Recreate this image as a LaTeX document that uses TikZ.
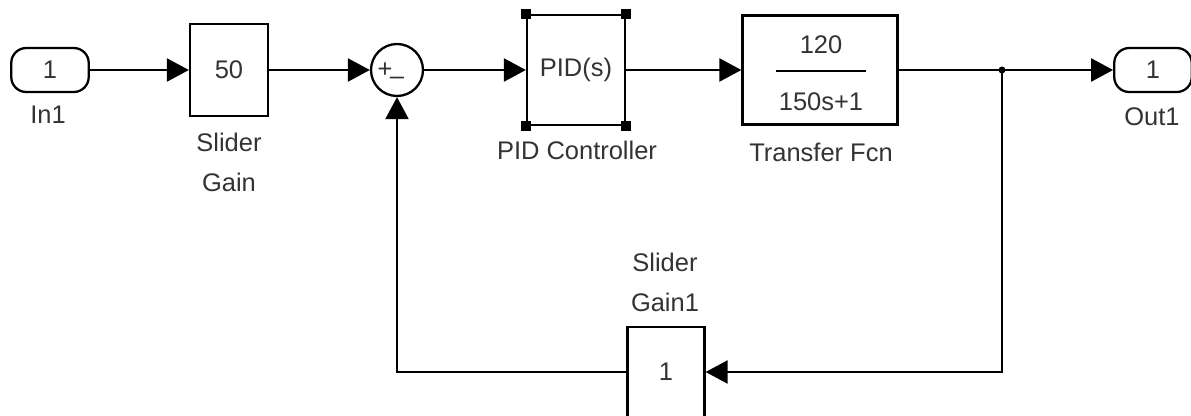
\documentclass[tikz,border=0pt]{standalone}
\usepackage{fontspec}
\setmainfont{Liberation Sans}
\usetikzlibrary{arrows.meta}

\begin{document}
\begin{tikzpicture}[x=0.02cm,y=-0.02cm,line width=1.3pt,
  >={Triangle[length=0.44cm,width=0.46cm]},
  every node/.style={text=black!80,font=\fontsize{14.5}{22.7}\selectfont,align=center},
  block/.style={draw=black,line width=1.3pt,inner sep=0pt},
  port/.style={block,rounded corners=0.3cm,minimum width=1.55cm,minimum height=0.88cm}]
  \useasboundingbox (0,0) rectangle (1191,416);
  % blocks
  \node[port] (in1) at (50,70) {1};
  \node[block,minimum width=1.56cm,minimum height=1.84cm] (sgain) at (229,70) {50};
  \node[block,circle,minimum size=1.04cm] (sum) at (397,70) {};
  \node (plus) at (385,70) {+};
  \node (minus) at (397,81) {–};
  \node[block,minimum width=1.96cm,minimum height=2.2cm] (pid) at (576,70) {PID(s)};
  \foreach \c in {north west,north east,south west,south east}
    \fill (pid.\c) ++(-5,-5) rectangle ++(10,10);
  \node[block,minimum width=3.1cm,minimum height=2.18cm] (tf) at (820,70) {};
  \node (tfnum) at (821,45) {120};
  \node (tfden) at (821,102) {150s+1};
  \draw (776,71) -- (866,71);
  \node[port] (out1) at (1153,70) {1};
  \node[block,minimum width=1.54cm,minimum height=1.8cm] (gain1) at (666,372) {1};
  % labels
  \node (in1lbl) at (48,115) {In1};
  \node (sgainlbl) at (229,162) {Slider\\Gain};
  \node (pidlbl) at (577,150) {PID Controller};
  \node (tflbl) at (821,152) {Transfer Fcn};
  \node (out1lbl) at (1152,117) {Out1};
  \node (gain1lbl) at (665,282) {Slider\\Gain1};
  % signals
  \coordinate (split) at (1002,70);
  \draw[->] (in1) -- (sgain);
  \draw[->] (sgain) -- (sum);
  \draw[->] (sum) -- (pid);
  \draw[->] (pid) -- (tf);
  \draw[->] (tf) -- (out1);
  \fill (split) circle (3.5);
  \draw[->] (split) |- (gain1);
  \draw[->] (gain1) -| (sum);
\end{tikzpicture}
\end{document}
